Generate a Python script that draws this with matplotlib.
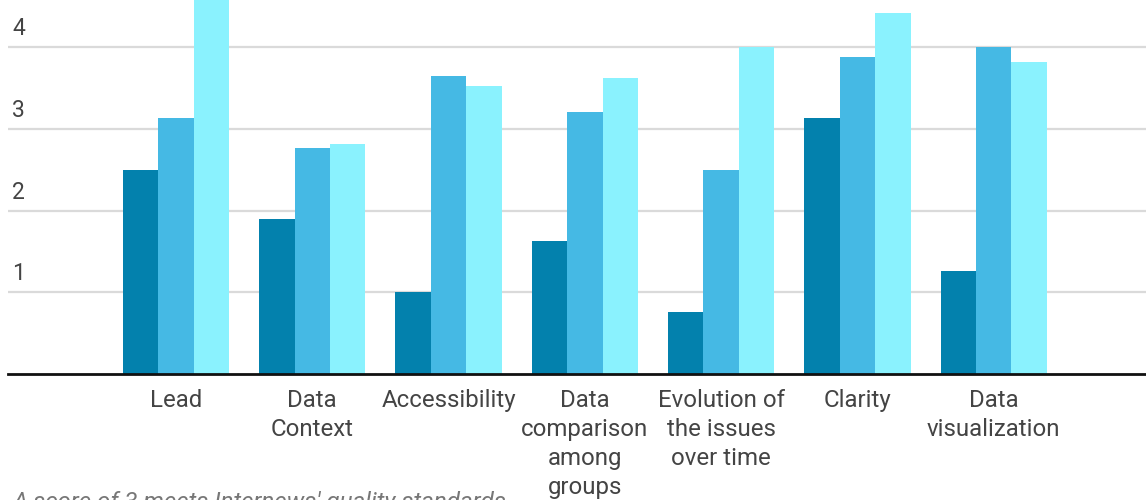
import matplotlib
matplotlib.use("Agg")
import matplotlib.pyplot as plt
import matplotlib.transforms as mtransforms
import numpy as np

plt.rcParams['font.family'] = ['Roboto', 'DejaVu Sans']

categories = ["Lead", "Data\nContext", "Accessibility", "Data\ncomparison\namong\ngroups",
              "Evolution of\nthe issues\nover time", "Clarity", "Data\nvisualization"]
series_a = [2.5, 1.9, 1.0, 1.63, 0.76, 3.13, 1.26]
series_b = [3.13, 2.77, 3.65, 3.21, 2.5, 3.88, 4.0]
series_c = [5.0, 2.82, 3.52, 3.62, 4.0, 4.42, 3.82]
y_ticks = [1, 2, 3, 4]
note = "A score of 3 meets Internews' quality standards"

colors = ["#0381ad", "#45b9e4", "#8af2fe"]
W, H = 1146, 500
fig = plt.figure(figsize=(W / 100, H / 100), dpi=100)
ax = fig.add_axes([8 / W, (H - 374) / H, 1 - 8 / W, 374 / H])

x = np.arange(len(categories))
bw = 0.26
for i, (vals, c) in enumerate(zip([series_a, series_b, series_c], colors)):
    ax.bar(x + (i - 1) * bw, vals, width=bw, color=c, linewidth=0, zorder=3)

ax.set_xlim(-1.2326, 7.117)
ax.set_ylim(0, 374 / 81.7)

for s in ["top", "right", "left"]:
    ax.spines[s].set_visible(False)
ax.spines["bottom"].set_color("#111111")
ax.spines["bottom"].set_linewidth(2)
ax.spines["bottom"].set_zorder(4)

ax.set_yticks(y_ticks)
ax.set_yticklabels([])
ax.tick_params(axis="y", length=0)
ax.grid(axis="y", color="#dadada", linewidth=1.6, zorder=0)

trans = mtransforms.blended_transform_factory(ax.transAxes, ax.transData)
trans = trans + mtransforms.ScaledTranslation(4 / 100, 7 / 100, fig.dpi_scale_trans)
for t in y_ticks:
    ax.text(0, t, str(t), transform=trans, ha="left", va="bottom",
            fontsize=16.5, color="#444444")

ax.set_xticks(x)
ax.set_xticklabels(categories, fontsize=17.3, color="#444444", linespacing=1.33)
ax.tick_params(axis="x", length=0, pad=11)

fig.text(13 / W, 1 - 491 / H, note, ha="left", va="top", fontsize=17.4,
         style="italic", color="#777777")

fig.savefig("out.png", dpi=100)
